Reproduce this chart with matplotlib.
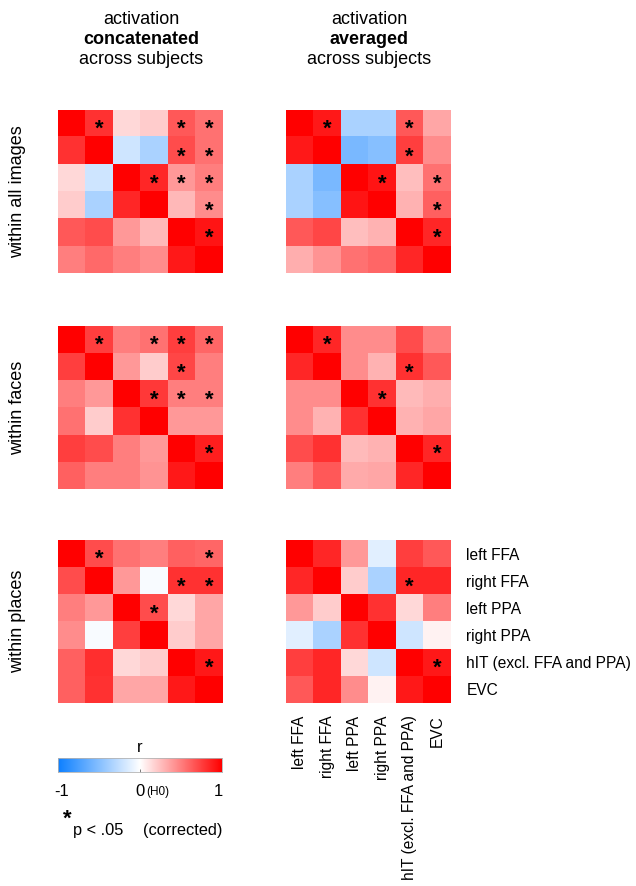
import numpy as np
import matplotlib.pyplot as plt
from matplotlib.colors import LinearSegmentedColormap

plt.rcParams['font.family'] = ['Liberation Sans', 'DejaVu Sans']

regions = ['left FFA', 'right FFA', 'left PPA', 'right PPA', 'hIT (excl. FFA and PPA)', 'EVC']

# rows: all images / faces / places ; columns: concatenated / averaged
all_concat = [[1.00, 0.80, 0.15, 0.20, 0.65, 0.55],
              [0.80, 1.00, -0.20, -0.35, 0.70, 0.55],
              [0.15, -0.20, 1.00, 0.85, 0.40, 0.50],
              [0.20, -0.35, 0.85, 1.00, 0.28, 0.45],
              [0.65, 0.70, 0.40, 0.28, 1.00, 0.92],
              [0.50, 0.58, 0.50, 0.45, 0.90, 1.00]]
all_avg = [[1.00, 0.90, -0.35, -0.35, 0.65, 0.35],
           [0.90, 1.00, -0.55, -0.50, 0.75, 0.45],
           [-0.35, -0.55, 1.00, 0.92, 0.25, 0.55],
           [-0.35, -0.50, 0.92, 1.00, 0.30, 0.62],
           [0.65, 0.72, 0.25, 0.30, 1.00, 0.85],
           [0.32, 0.42, 0.55, 0.60, 0.85, 1.00]]
faces_concat = [[1.00, 0.75, 0.50, 0.55, 0.75, 0.60],
                [0.75, 1.00, 0.40, 0.20, 0.72, 0.50],
                [0.50, 0.40, 1.00, 0.78, 0.50, 0.50],
                [0.55, 0.20, 0.80, 1.00, 0.40, 0.40],
                [0.75, 0.70, 0.50, 0.40, 1.00, 0.88],
                [0.62, 0.50, 0.50, 0.42, 0.90, 1.00]]
faces_avg = [[1.00, 0.85, 0.45, 0.45, 0.70, 0.50],
             [0.85, 1.00, 0.45, 0.30, 0.80, 0.65],
             [0.45, 0.45, 1.00, 0.80, 0.27, 0.32],
             [0.45, 0.30, 0.80, 1.00, 0.30, 0.35],
             [0.70, 0.80, 0.27, 0.30, 1.00, 0.85],
             [0.50, 0.65, 0.33, 0.35, 0.85, 1.00]]
places_concat = [[1.00, 0.70, 0.55, 0.50, 0.62, 0.60],
                 [0.70, 1.00, 0.40, -0.03, 0.80, 0.80],
                 [0.50, 0.40, 1.00, 0.70, 0.15, 0.35],
                 [0.45, -0.03, 0.75, 1.00, 0.20, 0.35],
                 [0.62, 0.82, 0.15, 0.20, 1.00, 0.90],
                 [0.62, 0.80, 0.35, 0.35, 0.90, 1.00]]
places_avg = [[1.00, 0.85, 0.40, -0.12, 0.75, 0.65],
              [0.85, 1.00, 0.20, -0.35, 0.85, 0.85],
              [0.40, 0.20, 1.00, 0.80, 0.15, 0.50],
              [-0.12, -0.35, 0.80, 1.00, -0.20, 0.05],
              [0.75, 0.85, 0.15, -0.20, 1.00, 0.90],
              [0.65, 0.85, 0.45, 0.05, 0.90, 1.00]]

# significant cells (row, col)
all_concat_sig = [(0, 1), (0, 4), (0, 5), (1, 4), (1, 5), (2, 3), (2, 4), (2, 5), (3, 5), (4, 5)]
all_avg_sig = [(0, 1), (0, 4), (1, 4), (2, 3), (2, 5), (3, 5), (4, 5)]
faces_concat_sig = [(0, 1), (0, 3), (0, 4), (0, 5), (1, 4), (2, 3), (2, 4), (2, 5), (4, 5)]
faces_avg_sig = [(0, 1), (1, 4), (2, 3), (4, 5)]
places_concat_sig = [(0, 1), (0, 5), (1, 4), (1, 5), (2, 3), (4, 5)]
places_avg_sig = [(1, 4), (4, 5)]

mats = [[all_concat, all_avg], [faces_concat, faces_avg], [places_concat, places_avg]]
sigs = [[all_concat_sig, all_avg_sig], [faces_concat_sig, faces_avg_sig], [places_concat_sig, places_avg_sig]]
row_names = ['within all images', 'within faces', 'within places']

cmap = LinearSegmentedColormap.from_list('bwr2', [(0.0, (0.05, 0.5, 1.0)), (0.5, (1, 1, 1)), (1.0, (1, 0, 0))])

W, H = 636, 886
fig = plt.figure(figsize=(W / 100, H / 100), dpi=100)

def rect(x, y, w, h):
    # pixel box (top-left origin) -> figure coords
    return [x / W, 1 - (y + h) / H, w / W, h / H]

col_x = [58, 286]
row_y = [110, 326, 540]
size_w, size_h = 165, 163

for r in range(3):
    for c in range(2):
        ax = fig.add_axes(rect(col_x[c], row_y[r], size_w, size_h))
        ax.imshow(np.array(mats[r][c]), cmap=cmap, vmin=-1, vmax=1, aspect='auto', interpolation='nearest')
        for (i, j) in sigs[r][c]:
            ax.text(j, i + 0.22, '*', ha='center', va='center', fontsize=16, fontweight='bold', color='black')
        ax.set_xticks([])
        ax.set_yticks([])
        for s in ax.spines.values():
            s.set_visible(False)
        if c == 1 and r == 2:
            ax.yaxis.tick_right()
            ax.set_yticks(range(6))
            ax.set_yticklabels(regions, fontsize=11.2)
            ax.set_xticks(range(6))
            ax.set_xticklabels(regions, rotation=90, fontsize=11.2)
            ax.tick_params(length=0, pad=11)
            ax.tick_params(axis='x', pad=9)
    fig.text(18 / W, 1 - (row_y[r] + size_h / 2) / H, row_names[r], rotation=90,
             ha='center', va='center', fontsize=13)

for cx, word in [(141, 'concatenated'), (369, 'averaged')]:
    fig.text(cx / W, 1 - 20 / H, 'activation', ha='center', va='center', fontsize=13)
    fig.text(cx / W, 1 - 40 / H, word, ha='center', va='center', fontsize=13, fontweight='bold')
    fig.text(cx / W, 1 - 60 / H, 'across subjects', ha='center', va='center', fontsize=13)

# colour bar
cax = fig.add_axes(rect(58, 758, 164, 14))
grad = np.linspace(-1, 1, 256).reshape(1, -1)
cax.imshow(grad, cmap=cmap, vmin=-1, vmax=1, aspect='auto', extent=[-1, 1, 0, 1])
cax.set_yticks([])
cax.set_xticks([0])
cax.set_xticklabels([])
cax.tick_params(axis='x', length=2, width=0.6, color='0.4', direction='in')
for s in cax.spines.values():
    s.set_color('0.7')
    s.set_linewidth(0.6)
fig.text(140 / W, 1 - 748 / H, 'r', ha='center', va='center', fontsize=12)
fig.text(62 / W, 1 - 792 / H, '-1', ha='center', va='center', fontsize=12)
fig.text(140 / W, 1 - 792 / H, '0', ha='center', va='center', fontsize=12)
fig.text(146 / W, 1 - 792 / H, '(H0)', ha='left', va='center', fontsize=8.5)
fig.text(218 / W, 1 - 792 / H, '1', ha='center', va='center', fontsize=12)
fig.text(67 / W, 1 - 819 / H, '*', ha='center', va='center', fontsize=16, fontweight='bold')
fig.text(73 / W, 1 - 831 / H, 'p < .05', ha='left', va='center', fontsize=11.8)
fig.text(143 / W, 1 - 831 / H, '(corrected)', ha='left', va='center', fontsize=11.8)

fig.savefig('out.png', dpi=100)
